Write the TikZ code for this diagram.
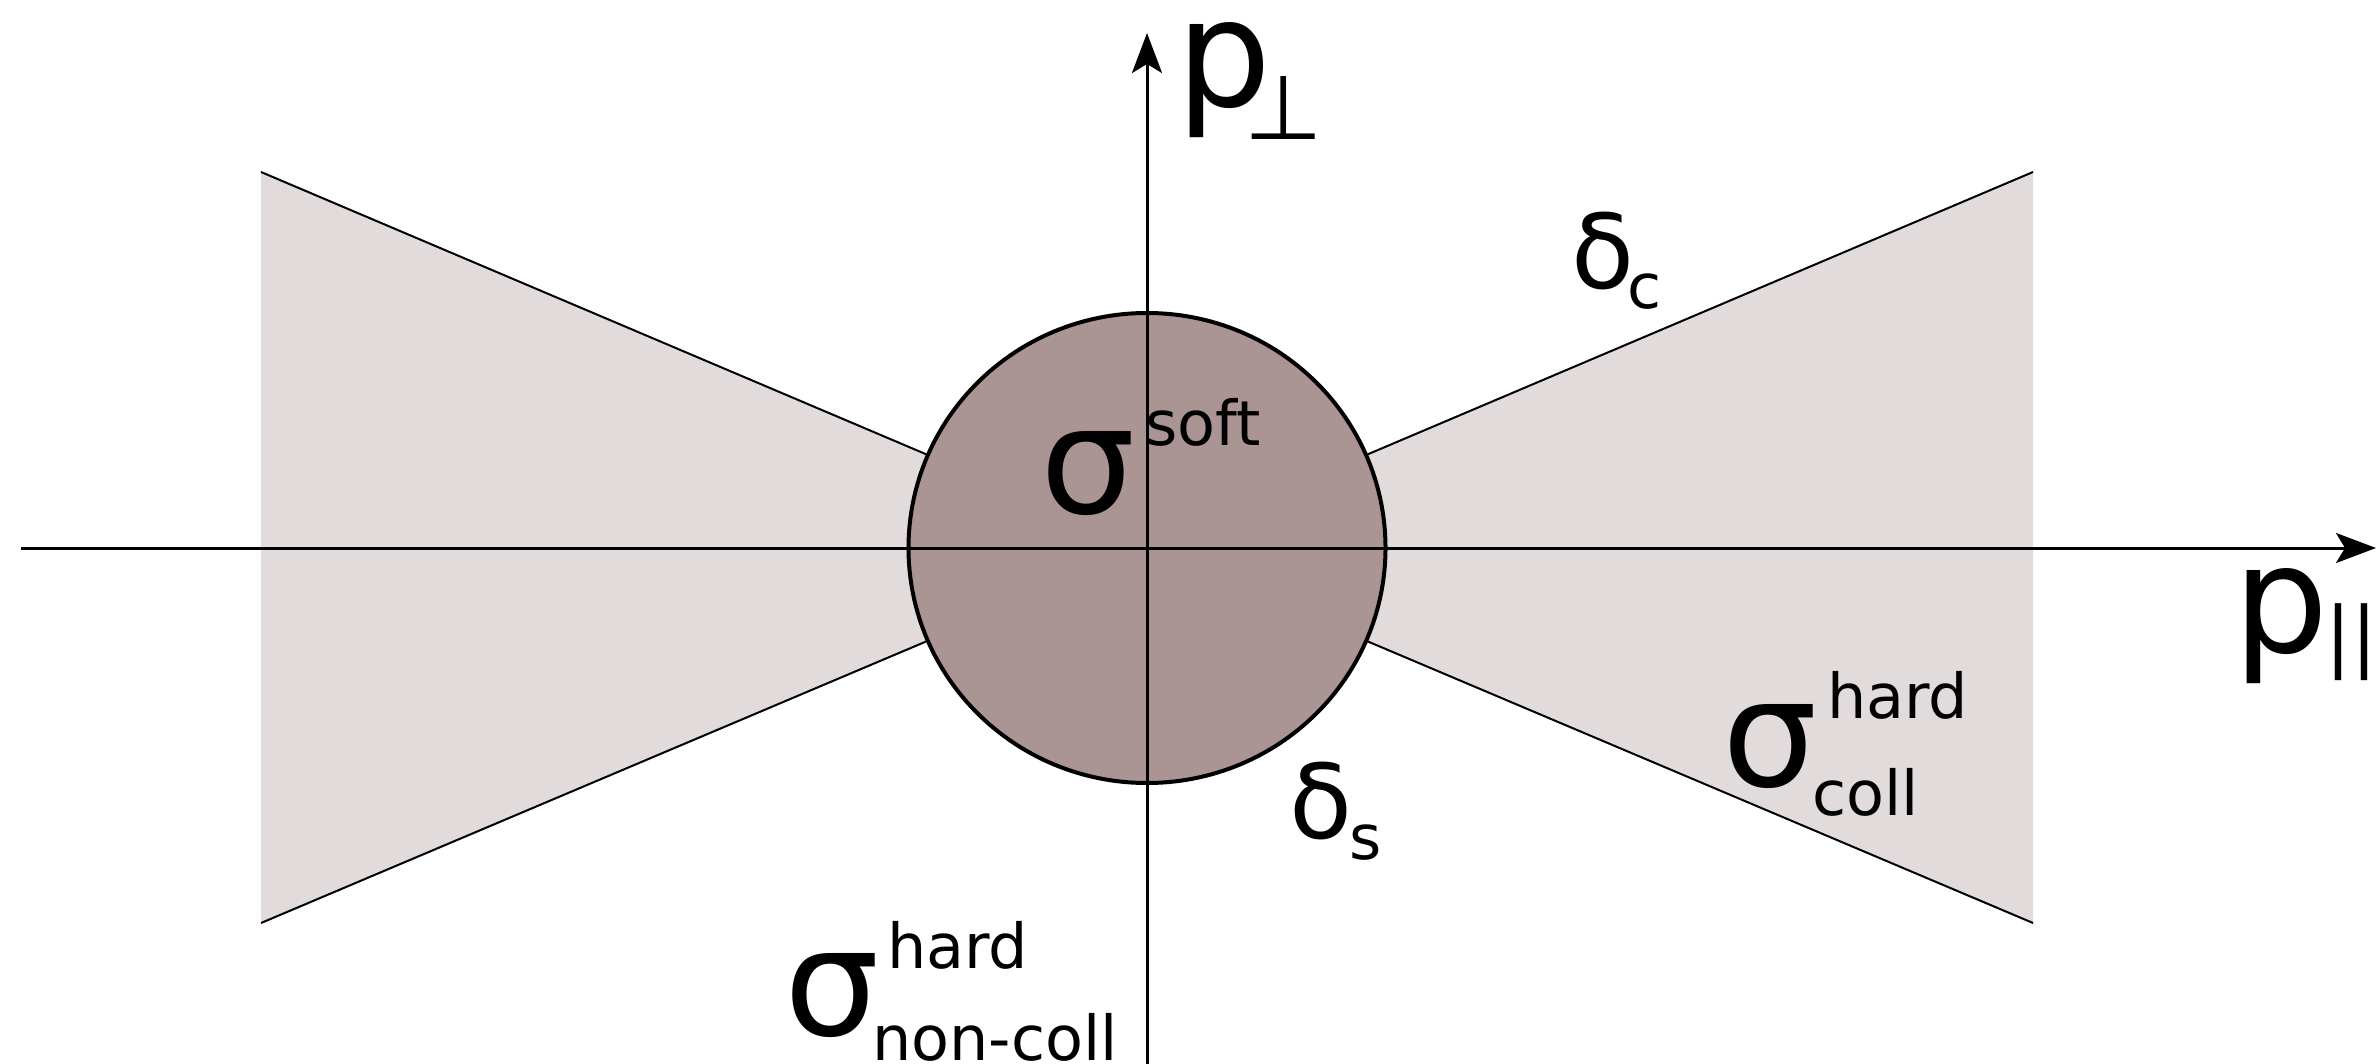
\documentclass[tikz,border=0pt]{standalone}
\usepackage{fontspec}
\setmainfont{DejaVu Sans}
\usetikzlibrary{arrows.meta,shapes.geometric}
\definecolor{lightfill}{HTML}{E2DBDC}
\definecolor{darkfill}{HTML}{AB9494}
\tikzset{
  axis/.style={line width=3pt,-{Stealth[length=40pt,width=30pt,inset=9pt]}},
  edge/.style={line width=2pt},
  lbl/.style={inner sep=0pt,anchor=base west},
  big/.style={lbl,font=\fontsize{150}{150}\selectfont},
  mid/.style={lbl,font=\fontsize{103}{103}\selectfont},
  small/.style={lbl,font=\fontsize{62}{62}\selectfont},
}
\begin{document}
\begin{tikzpicture}[x=1pt,y=-1pt]
\useasboundingbox (0,0) rectangle (2376,1064);
\coordinate (O) at (1147,548);
\coordinate (ltop) at (261,172);
\coordinate (lbot) at (261,923);
\coordinate (rtop) at (2033,172);
\coordinate (rbot) at (2033,923);
\fill[lightfill] (ltop) -- (O) -- (lbot) -- cycle;
\fill[lightfill] (rtop) -- (O) -- (rbot) -- cycle;
\node[ellipse,draw,line width=4pt,fill=darkfill,minimum width=477pt,minimum height=470pt,inner sep=0pt] (soft) at (O) {};
\draw[edge] (ltop) -- (soft);
\draw[edge] (lbot) -- (soft);
\draw[edge] (rtop) -- (soft);
\draw[edge] (rbot) -- (soft);
\coordinate (xl) at (21,548);
\coordinate (xr) at (2376,548);
\coordinate (yb) at (1147,1064);
\coordinate (yt) at (1147,33);
\draw[axis] (xl) -- (xr);
\draw[axis] (yb) -- (yt);
% axis labels
\node[big] (pperp) at (1176,107) {p};
\node[lbl,font=\fontsize{90}{90}\selectfont] (perp) at (1244,140) {⊥};
\node[big] (ppar) at (2233,652) {p};
\node[lbl,font=\fontsize{77}{77}\selectfont] (par) at (2325,662) {||};
% sigma soft
\node[big] (ssoft) at (1040,513) {σ};
\node[small] (ssoftsup) at (1145,445) {soft};
% delta c
\node[mid] (dc) at (1571,289) {δ};
\node[small] (dcsub) at (1627,309) {c};
% delta s
\node[mid] (ds) at (1289,838) {δ};
\node[small] (dssub) at (1349,859) {s};
% sigma hard coll
\node[big] (scoll) at (1722,786) {σ};
\node[small] (scollsup) at (1827,718) {hard};
\node[small] (scollsub) at (1812,815) {coll};
% sigma hard non-coll
\node[big] (snc) at (784,1035) {σ};
\node[small] (sncsup) at (887,968) {hard};
\node[small] (sncsub) at (872,1060) {non-coll};
\end{tikzpicture}
\end{document}
